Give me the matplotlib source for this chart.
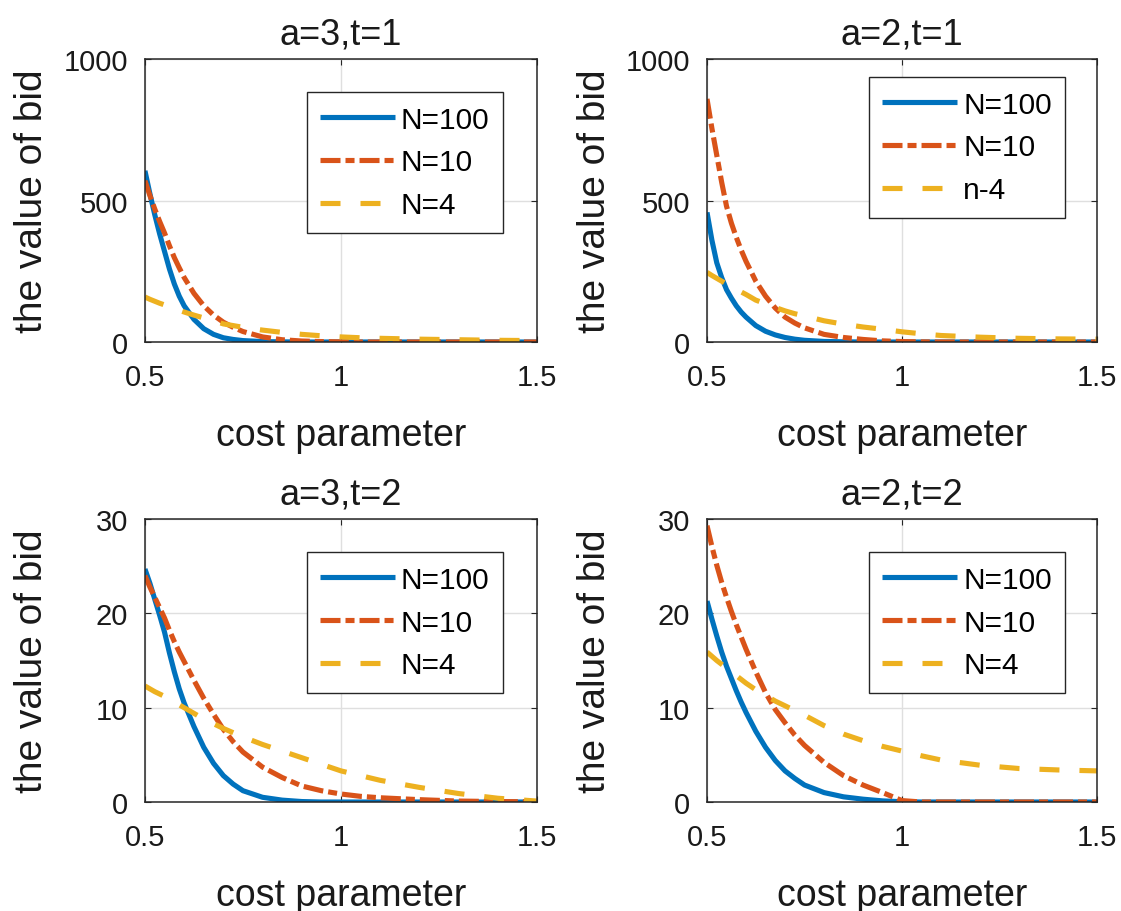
import matplotlib
matplotlib.use("Agg")
import matplotlib.pyplot as plt

# sample grid for the cost parameter (denser where the curves fall steeply)
cost = [0.5, 0.5125, 0.525, 0.5375, 0.55, 0.5625, 0.575, 0.5875, 0.6,
        0.625, 0.65, 0.675, 0.7, 0.725, 0.75,
        0.8, 0.85,
        0.9, 0.95, 1.0, 1.05, 1.1, 1.2, 1.3, 1.4, 1.5]

# a=3, t=1
bid_a3_t1_n100 = [605, 525, 450, 382, 320, 258, 205, 162, 128,
                  80, 47, 27, 15, 9, 5,
                  1.5, 0.5,
                  0, 0, 0, 0, 0, 0, 0, 0, 0]
bid_a3_t1_n10 = [570, 518, 470, 426, 385, 340, 298, 262, 228,
                 172, 128, 95, 70, 52, 37,
                 18, 8,
                 3.5, 1.5, 0.5, 0, 0, 0, 0, 0, 0]
bid_a3_t1_n4 = [159, 151, 144, 137, 131, 125, 119, 112, 106,
                95, 85, 75, 64, 58, 52,
                42, 34,
                27, 22, 18, 15, 13, 10, 8, 6, 5]

# a=2, t=1
bid_a2_t1_n100 = [458, 360, 280, 228, 185, 155, 128, 106, 88,
                  58, 38, 25, 16, 10, 6,
                  2, 0.7,
                  0, 0, 0, 0, 0, 0, 0, 0, 0]
bid_a2_t1_n10 = [859, 755, 660, 565, 480, 420, 370, 325, 285,
                 215, 162, 120, 88, 67, 50,
                 27, 16,
                 9, 4, 1.5, 0.5, 0, 0, 0, 0, 0]
bid_a2_t1_n4 = [246, 235, 225, 215, 205, 195, 186, 177, 168,
                148, 135, 122, 110, 100, 92,
                75, 63,
                53, 45, 36, 29, 23, 17, 13, 11, 10]

# a=3, t=2
bid_a3_t2_n100 = [24.7, 23.2, 21.5, 19.8, 18.0, 15.8, 13.8, 12.0, 10.5,
                  8.0, 5.8, 4.1, 2.8, 1.9, 1.2,
                  0.5, 0.2,
                  0.05, 0, 0, 0, 0, 0, 0, 0, 0]
bid_a3_t2_n10 = [24.0, 22.8, 21.7, 20.6, 19.5, 18.2, 17.0, 15.9, 14.9,
                 12.9, 11.0, 9.3, 7.7, 6.4, 5.3,
                 3.7, 2.6,
                 1.7, 1.2, 0.85, 0.6, 0.45, 0.25, 0.1, 0.05, 0.02]
bid_a3_t2_n4 = [12.3, 12.0, 11.7, 11.45, 11.2, 10.9, 10.6, 10.3, 10.0,
                9.4, 8.8, 8.3, 7.8, 7.35, 6.9,
                6.1, 5.4,
                4.7, 4.0, 3.3, 2.8, 2.3, 1.55, 0.9, 0.4, 0.1]

# a=2, t=2
bid_a2_t2_n100 = [21.3, 19.4, 17.6, 15.9, 14.4, 13.1, 11.8, 10.6, 9.5,
                  7.5, 5.8, 4.4, 3.3, 2.5, 1.8,
                  1.0, 0.55,
                  0.3, 0.12, 0.03, 0, 0, 0, 0, 0, 0]
bid_a2_t2_n10 = [29.3, 27.1, 25.1, 23.3, 21.7, 20.2, 18.8, 17.5, 16.2,
                 13.8, 11.6, 9.8, 8.4, 7.1, 6.0,
                 4.2, 2.8,
                 1.8, 1.0, 0.15, 0, 0, 0, 0, 0, 0]
bid_a2_t2_n4 = [15.9, 15.45, 15.0, 14.6, 14.2, 13.8, 13.4, 13.0, 12.6,
                11.9, 11.3, 10.7, 10.2, 9.7, 9.2,
                8.1, 7.2,
                6.5, 5.9, 5.4, 4.9, 4.45, 3.9, 3.55, 3.4, 3.3]

titles = ["a=3,t=1", "a=2,t=1", "a=3,t=2", "a=2,t=2"]
series = [
    (bid_a3_t1_n100, bid_a3_t1_n10, bid_a3_t1_n4),
    (bid_a2_t1_n100, bid_a2_t1_n10, bid_a2_t1_n4),
    (bid_a3_t2_n100, bid_a3_t2_n10, bid_a3_t2_n4),
    (bid_a2_t2_n100, bid_a2_t2_n10, bid_a2_t2_n4),
]
legend_labels = [
    ["N=100", "N=10", "N=4"],
    ["N=100", "N=10", "n-4"],
    ["N=100", "N=10", "N=4"],
    ["N=100", "N=10", "N=4"],
]
yticks_top = [0, 500, 1000]
yticks_bottom = [0, 10, 20, 30]
xticks = [0.5, 1, 1.5]
xtick_labels = ["0.5", "1", "1.5"]

plt.rcParams["font.family"] = ["Liberation Sans", "DejaVu Sans"]
plt.rcParams["font.size"] = 21
plt.rcParams["lines.scale_dashes"] = False

blue = "#0072BD"
orange = "#D95319"
yellow = "#EDB120"
axcol = "#262626"
txtcol = "#1a1a1a"

fig = plt.figure(figsize=(11.21, 9.12), dpi=100)

boxes = [
    (0.1293, 0.6239, 0.3497, 0.3103),
    (0.6307, 0.6239, 0.3480, 0.3103),
    (0.1293, 0.1195, 0.3497, 0.3103),
    (0.6307, 0.1195, 0.3480, 0.3103),
]
legend_anchor = [(0.913, 0.883), (0.918, 0.936), (0.913, 0.883), (0.918, 0.883)]

for i in range(4):
    ax = fig.add_axes(boxes[i])
    n100, n10, n4 = series[i]
    lab = legend_labels[i]
    ax.plot(cost, n100, color=blue, lw=3.7, label=lab[0],
            solid_capstyle="butt", solid_joinstyle="round")
    ax.plot(cost, n10, color=orange, lw=3.7, label=lab[1],
            dashes=[14.4, 3.6, 6.5, 3.6], dash_capstyle="butt")
    ax.plot(cost, n4, color=yellow, lw=3.7, label=lab[2],
            dashes=[14.4, 14.4], dash_capstyle="butt")

    ax.set_xlim(0.5, 1.5)
    ax.set_xticks(xticks)
    ax.set_xticklabels(xtick_labels)
    if i < 2:
        ax.set_ylim(0, 1000)
        ax.set_yticks(yticks_top)
    else:
        ax.set_ylim(0, 30)
        ax.set_yticks(yticks_bottom)

    ax.grid(True, color="#dfdfdf", lw=1)
    ax.set_axisbelow(True)
    for sp in ax.spines.values():
        sp.set_color(axcol)
        sp.set_linewidth(1.1)
    ax.tick_params(direction="in", length=4, width=0.8, colors=axcol,
                   top=True, right=True, labelcolor=txtcol)
    ax.tick_params(axis="x", pad=15)
    ax.tick_params(axis="y", pad=12)

    ax.set_title(titles[i], pad=11, color=txtcol, fontsize=26)
    ax.set_xlabel("cost parameter", color=txtcol, fontsize=27)
    ax.set_ylabel("the value of bid", color=txtcol, fontsize=28)
    ax.xaxis.set_label_coords(0.5, -0.265)
    ax.yaxis.set_label_coords(-0.242, 0.5)

    leg = ax.legend(loc="upper right", bbox_to_anchor=legend_anchor[i],
                    bbox_transform=ax.transAxes, borderaxespad=0,
                    fancybox=False, framealpha=1, edgecolor=axcol,
                    handlelength=2.5, handletextpad=0.2, labelspacing=0.5,
                    borderpad=0.45, fontsize=21.5)
    leg.get_frame().set_linewidth(1.0)

fig.savefig("out.png", dpi=100)
